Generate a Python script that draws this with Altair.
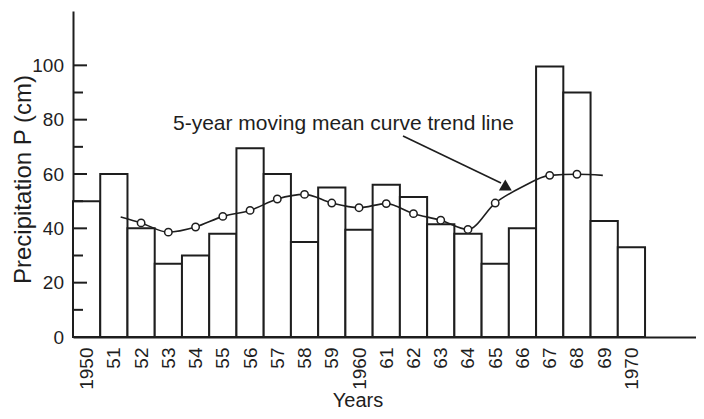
import altair as alt
import pandas as pd

# ---- data ----
years = list(range(1950, 1971))
year_labels = ["1950", "51", "52", "53", "54", "55", "56", "57", "58", "59",
               "1960", "61", "62", "63", "64", "65", "66", "67", "68", "69", "1970"]
precip = [50, 60, 40, 27, 30, 38, 69.5, 60, 35, 55,
          39.5, 56, 51.5, 41.5, 38, 27, 40, 99.6, 90, 42.7, 33]

mm_x = [1951.25, 1952, 1953, 1954, 1955, 1956, 1957, 1958, 1959, 1960,
        1961, 1962, 1963, 1964, 1965, 1966, 1967, 1968, 1968.95]
mm_vals = [44.2, 42.0, 38.6, 40.5, 44.4, 46.6, 50.8, 52.5, 49.3, 47.6,
           49.1, 45.4, 43.0, 39.6, 49.3, 55.3, 59.5, 59.9, 59.5]
mm_marker = [False, True, True, True, True, True, True, True, True, True,
             True, True, True, True, True, False, True, True, False]

major_ticks = [20, 40, 60, 80, 100]
minor_ticks = [10, 30, 50, 70, 90]
y_labels = [0, 20, 40, 60, 80, 100]
annotation = "5-year moving mean curve trend line"

FONT = "Liberation Sans"
INK = "#1e1e1e"

bars_df = pd.DataFrame({"year": years, "P": precip})
mm_df = pd.DataFrame({"x": mm_x, "P": mm_vals, "marker": mm_marker})
ticks_df = pd.DataFrame({"v": major_ticks + minor_ticks,
                         "kind": ["major"] * len(major_ticks) + ["minor"] * len(minor_ticks)})

W, H = 623, 326
XMIN = 1949.5
XMAX = XMIN + W / 27.24

xscale = alt.Scale(domain=[XMIN, XMAX], nice=False, zero=False)
yscale = alt.Scale(domain=[0, 120], nice=False)

label_expr = "[" + ",".join(f"'{l}'" for l in year_labels) + "][datum.value - 1950]"

x_axis = alt.Axis(
    values=years, labelExpr=label_expr, labelAngle=270, labelAlign="right",
    labelBaseline="middle", labelPadding=10, labelOverlap=False,
    title="Years", titleX=284.5, titleY=69, titleBaseline="alphabetic",
    titleAlign="center", titleFontSize=20)
y_axis = alt.Axis(
    values=y_labels, labelPadding=9.5, labelOverlap=False,
    title="Precipitation P (cm)", titleFontSize=24, titleAngle=270,
    titleX=-43, titleY=168, titleBaseline="alphabetic", titleAlign="center")

bars = alt.Chart(bars_df).transform_calculate(
    x0="datum.year - 0.5", x1="datum.year + 0.5"
).mark_rect(fill="white", stroke=INK, strokeWidth=2).encode(
    x=alt.X("x0:Q", scale=xscale, axis=x_axis),
    x2="x1:Q",
    y=alt.Y("P:Q", scale=yscale, axis=y_axis),
    y2=alt.datum(0),
)

major = alt.Chart(ticks_df).transform_filter("datum.kind == 'major'").mark_rule(
    color=INK, strokeWidth=2).encode(
    y=alt.Y("v:Q", scale=yscale, axis=y_axis), x=alt.value(0), x2=alt.value(14))
minor = alt.Chart(ticks_df).transform_filter("datum.kind == 'minor'").mark_rule(
    color=INK, strokeWidth=2).encode(
    y=alt.Y("v:Q", scale=yscale, axis=y_axis), x=alt.value(0), x2=alt.value(10))

line = alt.Chart(mm_df).mark_line(color=INK, strokeWidth=1.6, interpolate="monotone").encode(
    x=alt.X("x:Q", scale=xscale, axis=x_axis), y=alt.Y("P:Q", scale=yscale, axis=y_axis),
    order="x:Q")

pts = alt.Chart(mm_df).transform_filter("datum.marker").mark_point(
    shape="circle", filled=True, fill="white", stroke=INK, strokeWidth=1.5,
    size=55, opacity=1).encode(
    x=alt.X("x:Q", scale=xscale, axis=x_axis), y=alt.Y("P:Q", scale=yscale, axis=y_axis))

note_df = pd.DataFrame({"t": [annotation]})
note = alt.Chart(note_df).mark_text(
    font=FONT, fontSize=21, color=INK, align="left", baseline="alphabetic").encode(
    text="t:N", x=alt.value(100), y=alt.value(118.5))

arrow = alt.Chart(note_df).mark_rule(color=INK, strokeWidth=1.6).encode(
    x=alt.value(330), y=alt.value(125), x2=alt.value(428), y2=alt.value(172))

head = alt.Chart(note_df).mark_point(
    shape="triangle-up", filled=True, color=INK, size=165, opacity=1).encode(
    x=alt.value(432.3), y=alt.value(174))

chart = alt.layer(bars, major, minor, line, pts, arrow, head, note).properties(
    width=W, height=H,
    autosize=alt.AutoSizeParams(type="none"),
    padding={"left": 65, "top": 3, "right": 0, "bottom": 74},
).configure_view(stroke=None).configure_axis(
    ticks=False, tickSize=0, grid=False, domainColor=INK, domainWidth=2,
    labelFont=FONT, labelFontSize=19, labelColor=INK, labelFlush=False,
    labelOverlap=False, labelBound=False,
    titleFont=FONT, titleFontWeight="normal", titleColor=INK,
)

chart.save("out.html", embed_options={"renderer": "svg", "actions": False})
